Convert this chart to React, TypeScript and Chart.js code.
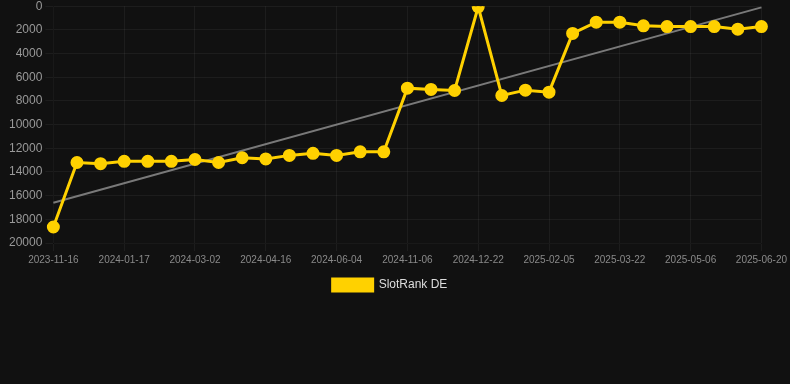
import React, { useEffect, useRef } from "react";
import { Chart, registerables } from "chart.js";

Chart.register(...registerables);

const labels: string[] = [
  "2023-11-16", "2023-12-07", "2023-12-28", "2024-01-17", "2024-02-01", "2024-02-16",
  "2024-03-02", "2024-03-17", "2024-04-01", "2024-04-16", "2024-05-02", "2024-05-18",
  "2024-06-04", "2024-07-25", "2024-09-15", "2024-11-06", "2024-11-21", "2024-12-06",
  "2024-12-22", "2025-01-05", "2025-01-20", "2025-02-05", "2025-02-20", "2025-03-07",
  "2025-03-22", "2025-04-06", "2025-04-21", "2025-05-06", "2025-05-21", "2025-06-05",
  "2025-06-20",
];

const rankDE: number[] = [
  18650, 13200, 13300, 13100, 13100, 13100,
  12950, 13200, 12800, 12900, 12600, 12430,
  12600, 12300, 12300, 6920, 7030, 7120,
  50, 7540, 7090, 7260, 2300, 1350,
  1350, 1660, 1720, 1720, 1720, 1940,
  1720,
];

const trendStart = 16600;
const trendEnd = 100;
const trend: (number | null)[] = labels.map((_, i) =>
  i === 0 ? trendStart : i === labels.length - 1 ? trendEnd : null
);

const yTicks = { min: 0, max: 20000, step: 2000 };

export default function App() {
  const ref = useRef<HTMLCanvasElement | null>(null);
  useEffect(() => {
    document.body.style.background = "#111111";
    document.body.style.margin = "0";
    const chart = new Chart(ref.current!, {
      type: "line",
      data: {
        labels,
        datasets: [
          {
            label: "SlotRank DE",
            data: rankDE,
            borderColor: "#FFD100",
            backgroundColor: "#FFD100",
            borderWidth: 3,
            pointRadius: 5,
            pointHoverRadius: 5,
            pointBackgroundColor: "#FFD100",
            pointBorderColor: "#FFD100",
            tension: 0,
          },
          {
            label: "trend",
            data: trend,
            borderColor: "rgba(140,140,140,0.85)",
            backgroundColor: "rgba(140,140,140,0.85)",
            borderWidth: 2,
            pointRadius: 0,
            spanGaps: true,
          },
        ],
      },
      options: {
        animation: false,
        responsive: false,
        maintainAspectRatio: false,
        layout: { padding: { left: 6, right: 16, top: 0, bottom: 0 } },
        plugins: {
          legend: {
            position: "bottom",
            labels: {
              color: "#dddddd",
              font: { size: 12, family: "Liberation Sans, Arial, sans-serif" },
              filter: (item) => item.text !== "trend",
            },
          },
          tooltip: { enabled: false },
        },
        scales: {
          x: {
            grid: { color: "rgba(255,255,255,0.05)" },
            ticks: {
              color: "#8a8a8a",
              font: { size: 10, family: "Liberation Sans, Arial, sans-serif" },
              maxRotation: 0,
              autoSkip: true,
            },
          },
          y: {
            reverse: true,
            min: yTicks.min,
            max: yTicks.max,
            grid: { color: "rgba(255,255,255,0.05)" },
            ticks: {
              stepSize: yTicks.step,
              color: "#999999",
              font: { size: 12, family: "Liberation Sans, Arial, sans-serif" },
              callback: (v) => String(v),
            },
          },
        },
      },
    });
    return () => chart.destroy();
  }, []);
  return (
    <div style={{ width: 790, height: 384, background: "#111111", overflow: "hidden" }}>
      <canvas ref={ref} width={790} height={305} style={{ display: "block", marginTop: -4 }} />
    </div>
  );
}
